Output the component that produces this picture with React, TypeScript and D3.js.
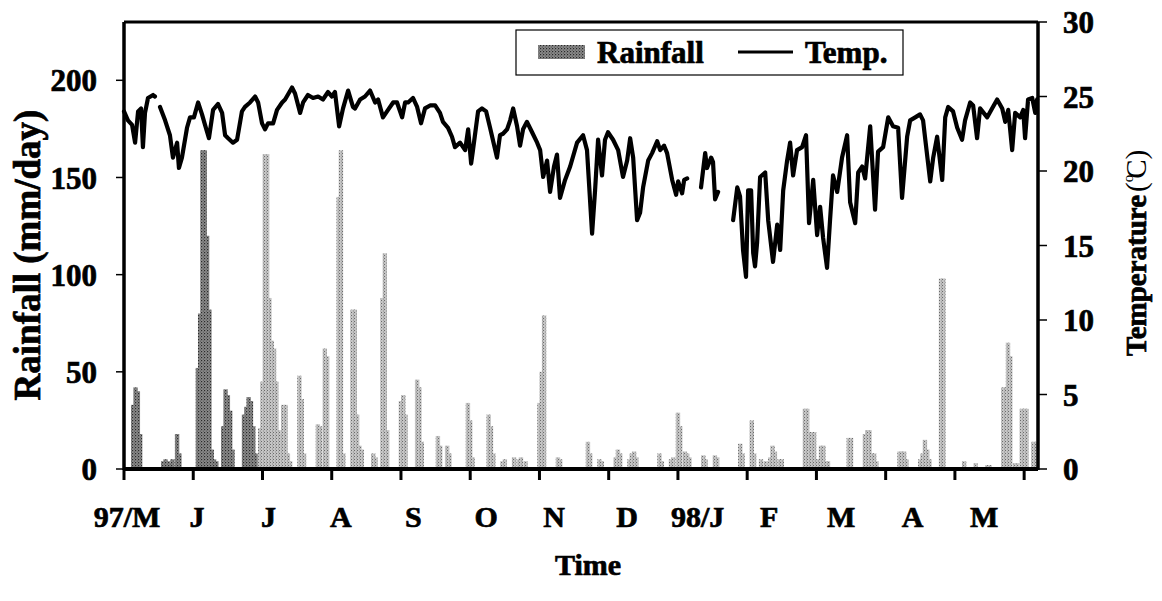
import * as d3 from 'd3'

// daily rainfall (day index from 1997-05-01, mm/day)
const rainfall: [number, number][] = [
  [4, 33], [5, 42], [6, 40], [7, 18],
  [17, 4], [18, 5], [19, 4], [20, 3], [21, 5], [23, 18], [24, 8],
  [32, 52], [33, 80], [34, 164], [35, 164], [36, 120], [37, 82], [38, 10], [39, 5], [40, 4],
  [43, 22], [44, 41], [45, 38], [46, 30], [47, 10],
  [52, 28], [53, 32], [54, 37], [55, 35], [56, 22], [57, 8],
  [59, 21], [60, 45], [61, 162], [62, 162], [63, 88], [64, 66], [65, 62], [66, 45], [67, 20], [68, 18], [69, 33], [70, 33], [71, 8], [72, 4],
  [76, 48], [77, 36], [78, 8], [84, 23], [85, 22], [87, 62], [88, 58],
  [93, 140], [94, 164], [95, 8], [99, 82], [100, 82], [101, 28], [102, 12], [103, 10],
  [108, 8], [109, 6], [112, 88], [113, 111], [114, 20],
  [120, 35], [121, 38], [122, 28], [127, 46], [128, 42], [129, 14],
  [136, 17], [137, 12], [140, 12], [141, 8], [149, 34], [150, 25], [151, 6],
  [158, 28], [159, 22], [160, 8], [164, 4], [165, 5], [169, 6], [171, 5], [172, 6], [174, 4],
  [180, 34], [181, 50], [182, 79], [188, 6], [189, 5], [201, 14], [202, 8], [206, 5], [207, 4],
  [213, 6], [214, 10], [215, 8], [219, 5], [220, 8], [221, 9], [222, 6],
  [232, 8], [233, 4], [237, 5], [238, 6], [240, 29], [241, 22], [243, 9], [244, 8], [245, 6],
  [251, 7], [252, 5], [256, 7], [257, 6], [267, 13], [268, 8], [272, 25], [273, 8],
  [276, 5], [278, 4], [280, 6], [281, 12], [282, 9], [284, 5], [285, 5],
  [295, 31], [296, 31], [297, 19], [298, 19], [299, 19], [300, 5], [301, 5], [302, 12], [303, 12], [304, 4], [305, 4],
  [314, 16], [315, 16], [321, 18], [322, 20], [323, 20], [324, 8], [325, 8], [326, 4],
  [336, 9], [337, 9], [338, 9], [339, 5], [345, 5], [346, 8], [347, 15], [348, 10], [349, 5],
  [354, 98], [355, 98], [364, 4], [369, 3], [374, 2], [375, 2],
  [381, 42], [382, 42], [383, 65], [384, 58], [386, 3], [387, 3],
  [389, 31], [390, 31], [391, 31], [394, 14], [395, 14],
]

// mean daily temperature (°C); null = missing record
const temperature: [number, number | null][] = [
  [0, 24.0], [1.7, 23.4], [3.5, 23.1], [4.8, 21.9], [6.1, 24.0], [7.4, 24.2], [8.2, 21.6], [9.1, 23.9], [10.4, 24.9], [12.6, 25.1], [13.4, 25.0],
  [14.5, null],
  [15.6, 24.3], [17.8, 23.4], [19.9, 22.4], [21.2, 20.9], [22.1, 21.4], [23.0, 21.9], [23.8, 20.2], [25.1, 20.9], [27.3, 22.9], [28.6, 23.6],
  [30.3, 23.6], [32.1, 24.6], [33.8, 23.8], [35.1, 23.1], [36.8, 22.2], [38.6, 24.1], [40.7, 24.5], [42.5, 23.9], [43.8, 22.4], [45.1, 22.2],
  [47.2, 21.9], [49.0, 22.1], [51.1, 24.0], [52.4, 24.3], [54.6, 24.6], [56.8, 25.0], [58.1, 24.6], [59.8, 23.2], [61.1, 22.8], [62.4, 23.2],
  [64.6, 23.2], [66.3, 24.1], [68.5, 24.6], [69.8, 24.8], [72.8, 25.6], [74.1, 25.2], [76.3, 23.9], [77.6, 24.6], [79.7, 25.1], [81.9, 24.9],
  [84.1, 25.0], [86.2, 24.8], [88.4, 25.3], [90.1, 25.0], [91.4, 25.3], [93.2, 23.0], [94.9, 24.2], [97.1, 25.4], [99.2, 24.3], [100.1, 24.2],
  [102.3, 24.8], [104.4, 25.0], [106.6, 25.4], [108.8, 24.6], [110.1, 24.8], [112.2, 23.6], [114.4, 24.1], [116.6, 24.6], [118.3, 24.6],
  [120.5, 23.6], [121.8, 24.6], [123.1, 24.6], [125.2, 24.9], [127.0, 24.3], [128.7, 23.2], [130.4, 24.2], [132.6, 24.4], [134.8, 24.4],
  [136.9, 23.9], [138.2, 23.3], [140.4, 22.9], [142.1, 22.3], [143.4, 21.6], [145.6, 21.9], [147.8, 21.4], [149.1, 22.8], [150.4, 20.5],
  [151.2, 21.4], [153.4, 24.0], [155.1, 24.2], [156.9, 24.0], [158.6, 22.9], [161.6, 20.9], [162.9, 22.4], [164.2, 22.5], [166.0, 22.8],
  [167.3, 23.4], [168.6, 24.2], [170.3, 23.0], [171.6, 21.7], [172.9, 22.8], [174.6, 23.3], [176.8, 22.6], [179.0, 21.9], [180.3, 21.4],
  [181.6, 19.6], [183.3, 20.7], [184.6, 18.6], [186.3, 20.3], [187.6, 21.1], [188.9, 18.2], [191.1, 19.4], [193.3, 20.3], [196.3, 21.9],
  [198.9, 22.4], [200.6, 21.4], [202.8, 15.8], [204.1, 18.7], [205.4, 22.1], [207.1, 19.7], [208.4, 22.1], [209.7, 22.6], [211.9, 22.1],
  [214.1, 21.4], [216.2, 19.6], [218.0, 20.7], [219.3, 22.2], [220.6, 20.9], [222.3, 16.7], [223.6, 17.2], [224.9, 18.9], [227.1, 20.7],
  [228.8, 21.2], [231.0, 22.0], [232.3, 21.4], [234.0, 21.7], [235.3, 21.2], [237.5, 19.4], [239.2, 18.4], [240.1, 19.3], [241.8, 18.5],
  [242.7, 19.4], [244.0, 19.5],
  [247, null],
  [250.0, 18.9], [251.8, 21.2], [252.6, 20.2], [254.4, 20.9], [255.2, 20.6], [256.1, 18.1], [257.4, 18.6],
  [260, null],
  [263.9, 16.7], [265.7, 18.9], [266.9, 18.3], [268.2, 14.7], [269.5, 12.9], [270.4, 18.7], [271.7, 18.7], [272.6, 14.5], [273.4, 13.6],
  [274.3, 15.2], [275.6, 19.6], [277.8, 19.9], [279.1, 16.7], [281.2, 13.9], [283.0, 16.4], [284.3, 14.7], [285.6, 18.7], [287.3, 20.7],
  [288.6, 21.9], [289.9, 19.7], [291.6, 21.4], [293.8, 21.6], [295.5, 22.4], [296.8, 16.5], [298.6, 19.4], [300.3, 15.7], [301.6, 17.6],
  [302.9, 15.5], [304.6, 13.5], [305.9, 16.7], [307.2, 19.7], [309.0, 18.6], [311.1, 20.9], [313.3, 22.4], [314.6, 17.9], [316.8, 16.5],
  [318.1, 19.9], [319.8, 20.3], [321.1, 19.5], [323.3, 23.0], [325.4, 17.4], [326.7, 21.3], [328.9, 21.6], [331.1, 23.6], [333.2, 23.0],
  [335.4, 22.9], [337.1, 18.2], [339.3, 22.3], [340.6, 23.4], [342.8, 23.6], [344.9, 23.8], [346.2, 23.4], [347.1, 22.2], [349.3, 19.3],
  [350.6, 20.9], [352.3, 22.3], [354.5, 19.4], [355.8, 23.6], [357.1, 24.3], [359.2, 24.0], [361.0, 22.9], [363.1, 22.1], [364.4, 23.4],
  [366.6, 24.6], [367.9, 24.4], [369.6, 22.2], [370.9, 24.2], [374.0, 23.6], [376.1, 24.2], [378.3, 24.8], [380.5, 24.2], [381.8, 23.3],
  [383.1, 24.1], [384.8, 21.4], [386.1, 23.9], [388.3, 23.6], [389.6, 24.1], [390.4, 22.2], [391.7, 24.8], [393.5, 24.9], [394.8, 23.9],
  [395.6, 24.8],
]

const monthLabels = ['97/M', 'J', 'J', 'A', 'S', 'O', 'N', 'D', '98/J', 'F', 'M', 'A', 'M']
const monthLabelDays = [1.3, 31.6, 62.6, 93.9, 125.4, 156.9, 186.3, 218, 248.5, 279.5, 310.7, 341.7, 372.7]
const xTickDays = [0, 30, 60, 90, 120, 150, 180, 210, 240, 270, 300, 330, 360, 390]
const rainTicks = [0, 50, 100, 150, 200]
const tempTicks = [0, 5, 10, 15, 20, 25, 30]

const FONT = "'Liberation Serif', 'Times New Roman', serif"
const bold = { fontFamily: FONT, fontWeight: 700, stroke: '#000', strokeWidth: 0.7 } as const

export default function App() {
  const left = 124
  const right = 1038
  const top = 22
  const bottom = 469

  const x = d3.scaleLinear().domain([0, 396]).range([left, right])
  const yRain = d3.scaleLinear().domain([0, 230]).range([bottom, top])
  const yTemp = d3.scaleLinear().domain([0, 30]).range([bottom, top])

  const barW = x(1.9) - x(0)

  const line = d3.line<[number, number | null]>()
    .defined(d => d[1] != null)
    .x(d => x(d[0]))
    .y(d => yTemp(d[1] as number))

  return (
    <div style={{ position: 'absolute', left: 0, top: 0 }}>
      <svg width={1162} height={601} style={{ display: 'block', background: '#fff' }}>
        <defs>
          <pattern id="rainLight" width={3} height={3} patternUnits="userSpaceOnUse">
            <rect width={3} height={3} fill="#c4c4c4" />
            <rect width={1} height={1} fill="#6a6a6a" />
            <rect x={2} y={1.5} width={1} height={1} fill="#8a8a8a" />
          </pattern>
          <pattern id="rainDark" width={3} height={3} patternUnits="userSpaceOnUse">
            <rect width={3} height={3} fill="#8a8a8a" />
            <rect width={1.2} height={1.2} fill="#2a2a2a" />
            <rect x={1.8} y={1.6} width={1} height={1} fill="#444" />
          </pattern>
        </defs>

        {/* rainfall bars */}
        <g>
          {rainfall.map(([d, v], i) => (
            <rect
              key={i}
              x={x(d) - barW / 2}
              y={yRain(v)}
              width={barW}
              height={bottom - yRain(v)}
              fill={d < 58 ? 'url(#rainDark)' : 'url(#rainLight)'}
            />
          ))}
        </g>

        {/* temperature line */}
        <path
          d={line(temperature) || ''}
          fill="none"
          stroke="#000"
          strokeWidth={4.2}
          strokeLinejoin="round"
          strokeLinecap="round"
        />

        {/* frame */}
        <line x1={left} x2={right} y1={top} y2={top} stroke="#000" strokeWidth={3} />
        <line x1={left} x2={left} y1={top} y2={bottom + 1} stroke="#000" strokeWidth={3.5} />
        <line x1={right} x2={right} y1={top} y2={bottom + 1} stroke="#000" strokeWidth={3.5} />
        <line x1={left} x2={right} y1={bottom} y2={bottom} stroke="#000" strokeWidth={4} />

        {/* left axis */}
        {rainTicks.map(t => (
          <g key={'l' + t}>
            <line x1={left - 8} x2={left} y1={yRain(t)} y2={yRain(t)} stroke="#000" strokeWidth={1.5} />
            <text x={97} y={yRain(t)} dy="0.36em" textAnchor="end" fontSize={31} style={bold}>{t}</text>
          </g>
        ))}

        {/* right axis */}
        {tempTicks.map(t => (
          <g key={'r' + t}>
            <line x1={right} x2={right + 9} y1={yTemp(t)} y2={yTemp(t)} stroke="#000" strokeWidth={1.5} />
            <text x={1063} y={yTemp(t)} dy="0.36em" textAnchor="start" fontSize={31} style={bold}>{t}</text>
          </g>
        ))}

        {/* x axis */}
        {xTickDays.map(d => (
          <line key={'x' + d} x1={x(d)} x2={x(d)} y1={bottom} y2={bottom + 11} stroke="#000" strokeWidth={3} />
        ))}
        {monthLabels.map((m, i) => (
          <text key={'m' + i} x={x(monthLabelDays[i])} y={527} textAnchor="middle" fontSize={30} style={bold}>{m}</text>
        ))}

        {/* axis titles */}
        <text x={588} y={575} textAnchor="middle" fontSize={30} style={bold}>Time</text>
        <text transform="translate(40,255) rotate(-90)" textAnchor="middle" fontSize={37} style={bold}>Rainfall (mm/day)</text>
        <text transform="translate(1146,356) rotate(-90)" textAnchor="start" fontSize={29} fontFamily={FONT}>
          <tspan style={bold}>Temperature</tspan>
          <tspan dx={3}>(</tspan>
          <tspan fontSize={15} dy={-13}>o</tspan>
          <tspan dy={13} dx={-4}>C)</tspan>
        </text>

        {/* legend */}
        <rect x={516} y={30} width={387} height={45} fill="#fff" stroke="#000" strokeWidth={1.2} />
        <rect x={538} y={45} width={47} height={14} fill="url(#rainDark)" />
        <text x={597} y={63} fontSize={31} style={bold}>Rainfall</text>
        <line x1={738} x2={793} y1={52} y2={52} stroke="#000" strokeWidth={3} />
        <text x={805} y={63} fontSize={31} style={bold}>Temp.</text>
      </svg>
    </div>
  )
}
